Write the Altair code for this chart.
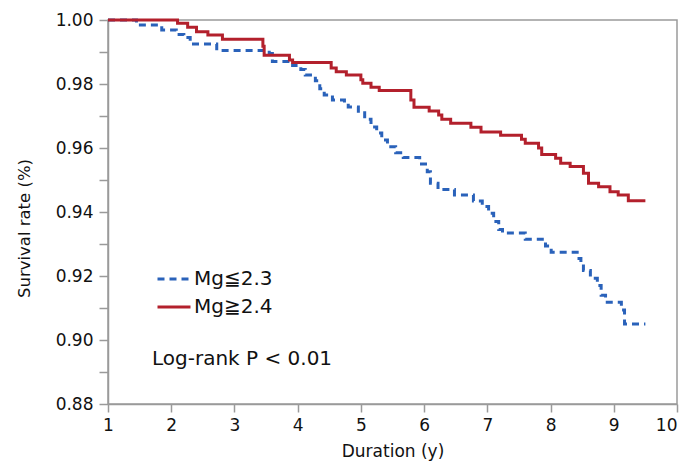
import altair as alt
import pandas as pd

# Red series: Mg≧2.4 (step-after times and survival values)
red_t = [1.0, 2.10, 2.26, 2.40, 2.58, 2.81, 3.45, 3.47, 3.87, 3.92, 4.53, 4.61, 4.77,
         5.00, 5.03, 5.16, 5.29, 5.79, 5.84, 6.08, 6.23, 6.28, 6.42, 6.74, 6.90, 7.21,
         7.54, 7.60, 7.81, 7.86, 8.08, 8.16, 8.31, 8.52, 8.60, 8.76, 8.94, 9.07, 9.23, 9.50]
red_v = [1.000, 0.9990, 0.9977, 0.9963, 0.9953, 0.9940, 0.9918, 0.9890, 0.9875, 0.9867,
         0.9850, 0.9838, 0.9828, 0.9813, 0.9802, 0.9790, 0.9780, 0.9750, 0.9727, 0.9716,
         0.9703, 0.9690, 0.9677, 0.9665, 0.9650, 0.9640, 0.9627, 0.9615, 0.9600, 0.9580,
         0.9568, 0.9552, 0.9542, 0.9521, 0.9490, 0.9479, 0.9463, 0.9453, 0.9435, 0.9435]

# Blue series: Mg≦2.3
blue_t = [1.0, 1.45, 1.85, 2.08, 2.20, 2.30, 2.72, 3.55, 3.60, 3.92, 4.05, 4.12, 4.28,
          4.35, 4.42, 4.55, 4.74, 4.80, 4.96, 5.06, 5.16, 5.25, 5.33, 5.42, 5.55, 5.67,
          5.93, 6.05, 6.10, 6.22, 6.48, 6.78, 6.92, 7.02, 7.10, 7.18, 7.24, 7.60, 7.92,
          8.01, 8.45, 8.48, 8.52, 8.63, 8.74, 8.80, 8.87, 9.12, 9.17, 9.50]
blue_v = [1.000, 0.9984, 0.9969, 0.9955, 0.9945, 0.9925, 0.9905, 0.9895, 0.9870, 0.9858,
          0.9845, 0.9828, 0.9810, 0.9785, 0.9766, 0.9750, 0.9740, 0.9728, 0.9710, 0.9690,
          0.9666, 0.9647, 0.9625, 0.9604, 0.9585, 0.9570, 0.9550, 0.9526, 0.9490, 0.9470,
          0.9453, 0.9434, 0.9417, 0.9396, 0.9370, 0.9345, 0.9334, 0.9315, 0.9294, 0.9274,
          0.9255, 0.9240, 0.9217, 0.9193, 0.9170, 0.9140, 0.9118, 0.9094, 0.9050, 0.9050]

groups = ["Mg≦2.3", "Mg≧2.4"]
colors = ["#2A62BA", "#B3202C"]
dashes = [[7, 5], [1, 0]]

x_ticks = [1, 2, 3, 4, 5, 6, 7, 8, 9, 10]
y_ticks = [0.88, 0.89, 0.90, 0.91, 0.92, 0.93, 0.94, 0.95, 0.96, 0.97, 0.98, 0.99, 1.00]

rows = []
for t, v in zip(blue_t, blue_v):
    rows.append({"t": t, "v": v, "g": groups[0], "o": 0})
for t, v in zip(red_t, red_v):
    rows.append({"t": t, "v": v, "g": groups[1], "o": 1})
df = pd.DataFrame(rows)

FONT = "DejaVu Sans"

legend_kw = dict(orient="none", legendX=48, legendY=241, title=None,
                 symbolType="stroke", symbolSize=1089, symbolStrokeWidth=3,
                 labelFontSize=20, labelFont=FONT, labelColor="#111",
                 labelOffset=2, rowPadding=-14, padding=0)

lines = alt.Chart(df).mark_line(interpolate="step-after", strokeWidth=3).encode(
    x=alt.X("t:Q", scale=alt.Scale(domain=[1, 10], nice=False),
            axis=alt.Axis(values=x_ticks, title="Duration (y)", format="d",
                          titleY=52, titleBaseline="alphabetic",
                          tickSize=8, labelPadding=5,
                          labelAlign=alt.condition("datum.value == 10",
                                                   alt.value("right"),
                                                   alt.value("center")))),
    y=alt.Y("v:Q", scale=alt.Scale(domain=[0.88, 1.0], nice=False, zero=False),
            axis=alt.Axis(values=y_ticks, title="Survival rate (%)",
                          labelExpr="round(datum.value*100) % 2 == 0 ? format(datum.value, '.2f') : ''",
                          titleX=-84, titleY=208, titleBaseline="middle",
                          labelOverlap=False, tickSize=9, labelPadding=6)),
    color=alt.Color("g:N", scale=alt.Scale(domain=groups, range=colors),
                    legend=alt.Legend(**legend_kw)),
    strokeDash=alt.StrokeDash("g:N", scale=alt.Scale(domain=groups, range=dashes),
                              legend=alt.Legend(**legend_kw)),
    order="o:Q",
    detail="g:N",
)

note = alt.Chart(pd.DataFrame({"label": ["Log-rank P < 0.01"]})).mark_text(
    align="left", baseline="alphabetic", fontSize=20, font=FONT, color="#111"
).encode(x=alt.value(44), y=alt.value(345), text="label:N")

chart = alt.layer(lines, note).properties(
    width=569, height=384,
    autosize=alt.AutoSizeParams(type="none"),
    padding={"left": 100, "top": 12, "right": 3, "bottom": 57},
).configure_view(
    stroke="#9a9a9a", strokeWidth=1.5
).configure_axis(
    domainColor="#9a9a9a", domainWidth=1.5, tickColor="#9a9a9a", tickWidth=1.5,
    grid=False, labelFont=FONT, labelFontSize=17, labelColor="#111",
    titleFont=FONT, titleFontSize=17, titleFontWeight="normal", titleColor="#111"
).configure_axisY(titleFontSize=16.5)

chart.save("out.html", embed_options={"renderer": "svg", "actions": False})
